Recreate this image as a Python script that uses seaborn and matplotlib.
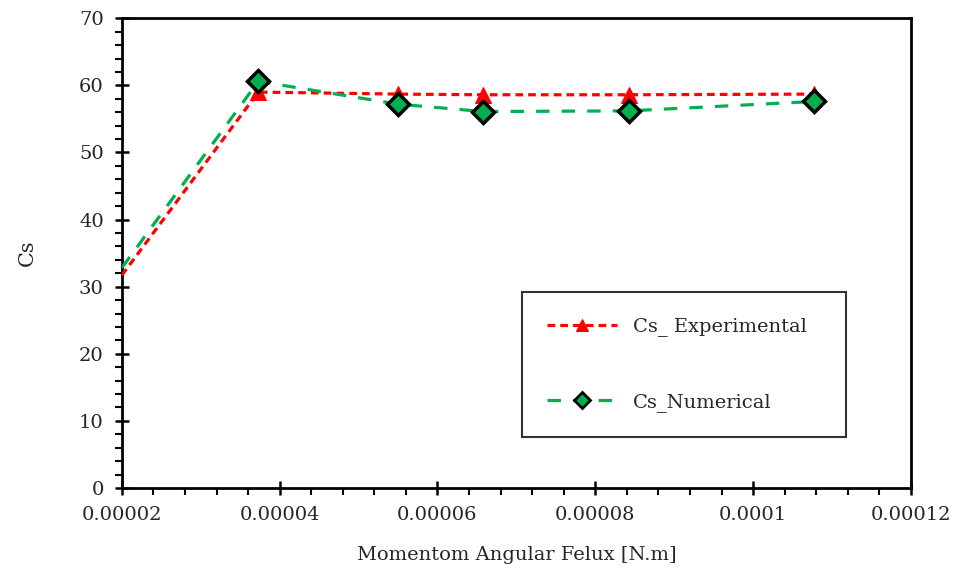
import pandas as pd
import matplotlib.pyplot as plt
import numpy as np
import seaborn as sns
from matplotlib.ticker import MultipleLocator, FuncFormatter

# Datos
flux = [0.00002, 0.0000373, 0.000055, 0.0000658, 0.0000843, 0.0001077]
cs_exp = [31.7, 59.0, 58.7, 58.6, 58.6, 58.7]
cs_num = [32.8, 60.6, 57.2, 56.1, 56.2, 57.6]

df = pd.DataFrame({'flux': flux, 'exp': cs_exp, 'num': cs_num})

sns.set_style('ticks')
plt.rcParams['font.family'] = ['DejaVu Serif']

fig, ax = plt.subplots(figsize=(9.59, 5.71), dpi=100)
fig.subplots_adjust(left=0.127, right=0.950, top=0.968, bottom=0.1454)

# Experimental
sns.lineplot(
    data=df, x='flux', y='exp', ax=ax,
    color='#FF0000', linewidth=2.3,
    linestyle=(0, (2.4, 1.6)),
    marker='^', markersize=12, markeredgecolor='#FF0000',
    markevery=list(range(1, len(flux))),
    label='Cs_ Experimental', zorder=3
)

# Numérico
sns.lineplot(
    data=df, x='flux', y='num', ax=ax,
    color='#00B050', linewidth=2.3,
    linestyle=(0, (4.2, 3.8)),
    marker='D', markersize=11, markerfacecolor='#00B050',
    markeredgecolor='black', markeredgewidth=2.5,
    markevery=list(range(1, len(flux))),
    label='Cs_Numerical', zorder=4
)

ax.set_xlim(0.00002, 0.00012)
ax.set_ylim(0, 70)
ax.xaxis.set_major_locator(MultipleLocator(0.00002))
ax.xaxis.set_minor_locator(MultipleLocator(0.000004))
ax.yaxis.set_major_locator(MultipleLocator(10))
ax.yaxis.set_minor_locator(MultipleLocator(2))
ax.xaxis.set_major_formatter(FuncFormatter(lambda v, p: f'{v:.5f}'.rstrip('0').rstrip('.') if v else '0'))

ax.tick_params(which='major', direction='inout', length=10, width=1.8, labelsize=14, color='black')
ax.tick_params(which='minor', direction='out', length=5, width=1.5, color='black')
ax.tick_params(axis='x', which='major', pad=8)
ax.tick_params(axis='y', which='major', pad=8)

for s in ax.spines.values():
    s.set_linewidth(2)
    s.set_color('black')

ax.set_xlabel('Momentom Angular Felux [N.m]', fontsize=14, labelpad=16)
ax.set_ylabel('Cs', fontsize=15, labelpad=30)

leg = ax.legend(
    loc='lower left',
    bbox_to_anchor=(0.507, 0.1085, 0.411, 0.3085),
    mode='expand',
    fontsize=14,
    frameon=True,
    fancybox=False,
    edgecolor='black',
    handlelength=3.6,
    labelspacing=2.9,
    borderpad=1.3,
    borderaxespad=0
)
leg.get_frame().set_linewidth(1.5)
for h in leg.legend_handles:
    h.set_markersize(8)
    if h.get_marker() == 'D':
        h.set_markeredgewidth(2)

fig.savefig('out.png', dpi=100)
